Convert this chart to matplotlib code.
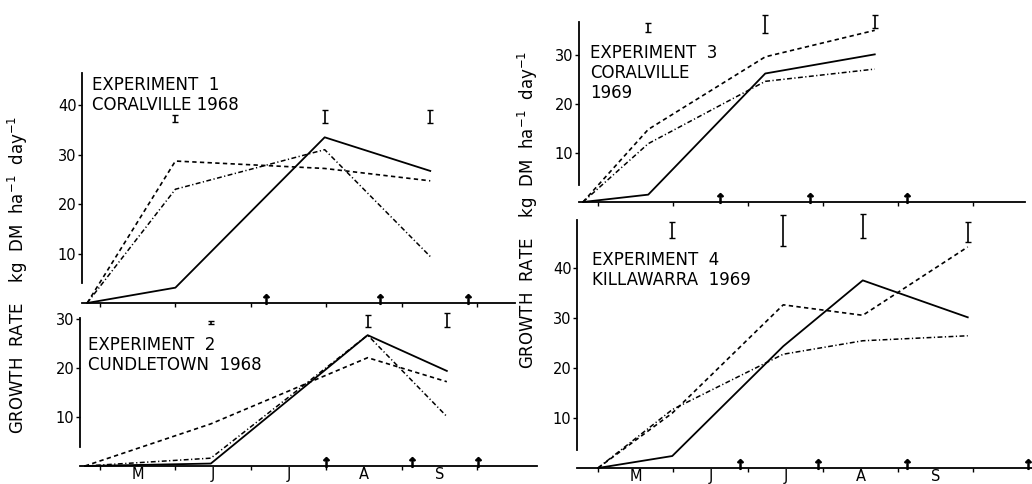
import matplotlib
matplotlib.use('Agg')
import matplotlib.pyplot as plt

# x values are in months counted from 1 May (0 = 1 May, 1 = 1 June, ...)
month_labels = ['M', 'J', 'J', 'A', 'S']
month_ticks = [0, 1, 2, 3, 4, 5]

# Experiment 1 - Coralville 1968
exp1_x = [-0.17, 1.0, 2.98, 4.38]
exp1_solid = [0, 3.1, 33.5, 26.7]
exp1_dashed = [0, 28.7, 27.2, 24.7]
exp1_dashdot = [0, 23.0, 31.0, 9.4]
exp1_bar_x = [1.0, 2.98, 4.38]
exp1_bar_lo = [36.6, 36.3, 36.3]
exp1_bar_hi = [38.0, 39.0, 39.0]
exp1_arrows = [2.2, 3.71, 4.88]

# Experiment 2 - Cundletown 1968
exp2_x = [-0.2, 1.47, 3.55, 4.6]
exp2_solid = [0, 0.5, 26.7, 19.4]
exp2_dashed = [0, 8.6, 22.1, 17.2]
exp2_dashdot = [0, 1.6, 26.7, 10.1]
exp2_bar_x = [1.47, 3.55, 4.6]
exp2_bar_lo = [29.0, 28.4, 28.4]
exp2_bar_hi = [29.5, 30.8, 31.2]
exp2_arrows = [3.0, 4.14, 5.01]

# Experiment 3 - Coralville 1969
exp3_x = [-0.2, 0.67, 2.23, 3.69]
exp3_solid = [0, 1.5, 26.2, 30.1]
exp3_dashed = [0, 14.8, 29.6, 35.0]
exp3_dashdot = [0, 11.9, 24.6, 27.1]
exp3_bar_x = [0.67, 2.23, 3.69]
exp3_bar_lo = [34.7, 34.4, 35.4]
exp3_bar_hi = [36.4, 38.1, 38.1]
exp3_arrows = [1.63, 2.83, 4.12]

# Experiment 4 - Killawarra 1969
exp4_x = [0, 0.99, 2.47, 3.53, 4.93]
exp4_solid = [0, 2.4, 24.4, 37.6, 30.2]
exp4_dashed = [0, 11.0, 32.7, 30.6, 44.3]
exp4_dashdot = [0, 11.7, 22.8, 25.5, 26.5]
exp4_bar_x = [0.99, 2.47, 3.53, 4.93]
exp4_bar_lo = [46.0, 44.5, 46.0, 45.3]
exp4_bar_hi = [49.3, 50.7, 51.0, 49.3]
exp4_arrows = [1.89, 2.93, 4.12, 5.73]

W, H = 1032, 484
plt.rcParams['font.family'] = 'DejaVu Sans'

fig = plt.figure(figsize=(W / 100, H / 100), dpi=100)


def make_axes(left, right, top, bottom, x0, px_month, ytop, spine_lo):
    # positions given in pixels from the top-left corner
    ax = fig.add_axes([left / W, 1 - bottom / H, (right - left) / W, (bottom - top) / H])
    ax.set_xlim((left - x0) / px_month, (right - x0) / px_month)
    ax.set_ylim(0, ytop)
    for s in ['top', 'right']:
        ax.spines[s].set_visible(False)
    ax.spines['left'].set_bounds(spine_lo, ytop)
    ax.spines['left'].set_linewidth(1.3)
    ax.spines['bottom'].set_linewidth(1.3)
    ax.set_xticks(month_ticks)
    ax.set_xticklabels([])
    ax.tick_params(axis='x', which='major', direction='out', length=3, width=1)
    ax.tick_params(axis='y', direction='out', length=3, width=1, pad=1, labelsize=10.5)
    ax.patch.set_alpha(0)
    return ax


def draw(ax, x, solid, dashed, dashdot, bar_x, bar_lo, bar_hi, arrows, ticks, label, label_xy):
    ax.plot(x, solid, color='k', lw=1.3, clip_on=False)
    ax.plot(x, dashed, color='k', lw=1.2, dashes=(2.6, 2.0), clip_on=False)
    ax.plot(x, dashdot, color='k', lw=1.1, dashes=(3.2, 1.6, 0.8, 1.6), clip_on=False)
    for bx, lo, hi in zip(bar_x, bar_lo, bar_hi):
        eb = ax.errorbar([bx], [(lo + hi) / 2], yerr=[(hi - lo) / 2], fmt='none',
                         ecolor='k', elinewidth=1.2, capsize=2.5, capthick=1.0)
        for art in eb.lines[1] + eb.lines[2]:
            art.set_clip_on(False)
    ax.plot(arrows, [0.9] * len(arrows), ls='none', marker=r'$\uparrow$', ms=7,
            color='k', clip_on=False)
    ax.set_yticks(ticks)
    ax.text(label_xy[0], label_xy[1], label, transform=ax.transAxes, fontsize=12,
            ha='left', va='top', linespacing=1.15)


def month_names(ax):
    ax.set_xticks([m + 0.5 for m in month_ticks[:-1]], minor=True)
    ax.set_xticklabels(month_labels, minor=True, fontsize=10.5)
    ax.tick_params(axis='x', which='minor', length=0, pad=1)


# left column
ax1 = make_axes(82, 515, 73, 303, 100, 75.4, 46.5, 4.0)
draw(ax1, exp1_x, exp1_solid, exp1_dashed, exp1_dashdot, exp1_bar_x, exp1_bar_lo,
     exp1_bar_hi, exp1_arrows, [10, 20, 30, 40], 'EXPERIMENT  1\nCORALVILLE 1968',
     (10 / 433, 1 - 3 / 230))

ax2 = make_axes(80, 537, 318, 466, 100, 75.4, 30.2, 3.9)
draw(ax2, exp2_x, exp2_solid, exp2_dashed, exp2_dashdot, exp2_bar_x, exp2_bar_lo,
     exp2_bar_hi, exp2_arrows, [10, 20, 30], 'EXPERIMENT  2\nCUNDLETOWN  1968',
     (8 / 457, 1 - 18 / 148))
month_names(ax2)

# right column
ax3 = make_axes(579, 1025, 22, 202, 598, 75.0, 36.7, 3.4)
draw(ax3, exp3_x, exp3_solid, exp3_dashed, exp3_dashdot, exp3_bar_x, exp3_bar_lo,
     exp3_bar_hi, exp3_arrows, [10, 20, 30], 'EXPERIMENT  3\nCORALVILLE\n1969',
     (11 / 446, 1 - 22 / 180))

ax4 = make_axes(577, 1032, 220, 468, 598, 75.0, 49.7, 3.6)
draw(ax4, exp4_x, exp4_solid, exp4_dashed, exp4_dashdot, exp4_bar_x, exp4_bar_lo,
     exp4_bar_hi, exp4_arrows, [10, 20, 30, 40], 'EXPERIMENT  4\nKILLAWARRA  1969',
     (15 / 455, 1 - 31 / 248))
month_names(ax4)

ylab = 'GROWTH  RATE    kg  DM  ha$^{-1}$  day$^{-1}$'
fig.text(18 / W, 1 - 275 / H, ylab, rotation=90, ha='center', va='center', fontsize=12)
fig.text(528 / W, 1 - 210 / H, ylab, rotation=90, ha='center', va='center', fontsize=12)

fig.savefig('out.png', dpi=100)
